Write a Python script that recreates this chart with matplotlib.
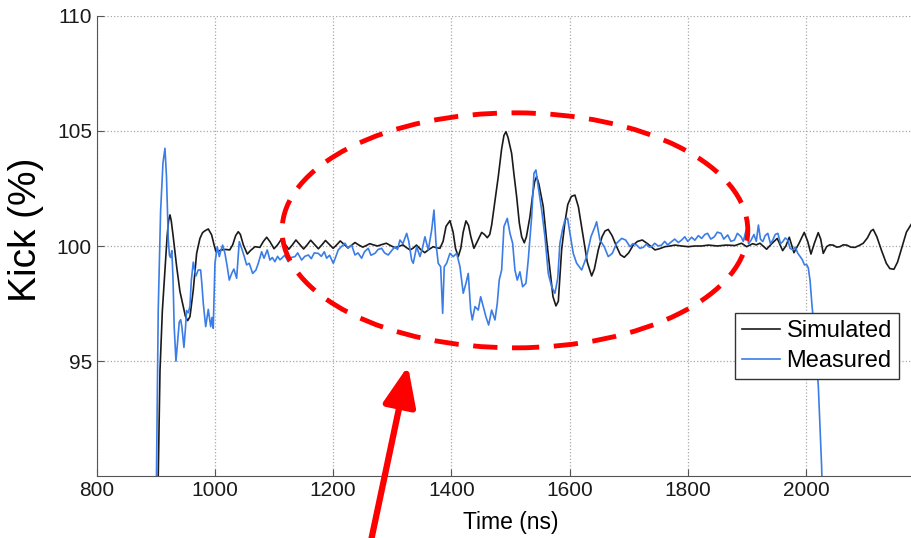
import matplotlib
matplotlib.use('Agg')
import matplotlib.pyplot as plt
from matplotlib.patches import Ellipse

plt.rcParams['font.family'] = ['Liberation Sans', 'DejaVu Sans']

# Simulated kick (black)
sim_t = [900, 904, 907, 911, 915.4, 919, 921.5, 923.9, 926, 929.4, 935.2, 940.8, 946.4, 950, 953.8,
         957.7, 963.3, 969, 974.6, 979, 983.1, 988.7, 994.4, 998, 1001.7, 1006, 1011, 1018, 1025, 1030,
         1035, 1039.4, 1043, 1048, 1054.7, 1060, 1067.7, 1076, 1082, 1087.5, 1093, 1100, 1106, 1112,
         1118, 1125, 1131, 1137, 1143, 1150, 1156, 1162, 1168, 1175, 1181, 1187, 1193, 1200, 1206,
         1212, 1218, 1225, 1231, 1237, 1243, 1250, 1256, 1262, 1268, 1275, 1282, 1290, 1297, 1305,
         1311, 1318, 1324, 1330, 1335, 1341, 1348, 1355, 1362, 1369.4, 1375, 1380.7, 1386, 1391,
         1397.6, 1403, 1407, 1411.7, 1416, 1420, 1424.7, 1429, 1433, 1438.2, 1444, 1451.3, 1456,
         1460.8, 1465, 1468.2, 1473, 1479.4, 1485, 1489, 1492.4, 1496, 1502, 1506, 1510.5, 1515,
         1519, 1523.4, 1527, 1533, 1538, 1541, 1544.3, 1548, 1551, 1555.5, 1561, 1566.8, 1572, 1577,
         1581, 1586.6, 1592, 1597, 1603, 1609.1, 1615, 1623.2, 1630, 1637.4, 1642, 1648.6, 1655, 1660,
         1665.5, 1672, 1679.7, 1686, 1692.6, 1700, 1707.8, 1715, 1723.1, 1732, 1744.5, 1752, 1761.4,
         1770, 1778.4, 1790, 1800.8, 1812, 1823.5, 1835, 1850, 1865, 1880, 1891, 1899.7, 1910, 1916,
         1922.2, 1933.5, 1942, 1951.5, 1960.6, 1966, 1971.8, 1979.7, 1988, 1997.1, 2003, 2008.5, 2014,
         2020.8, 2025, 2029.3, 2035, 2040, 2046, 2052, 2057.5, 2063, 2069, 2076, 2083, 2090, 2097,
         2104, 2110, 2113.9, 2120, 2128, 2136, 2142, 2148.9, 2155, 2162, 2170, 2179.3, 2190, 2200]
sim_kick = [85.0, 90.0, 94.6, 97.2, 98.96, 100.4, 101.1, 101.35, 101.1, 100.4, 99.1, 98.02, 97.37, 96.95,
            96.76, 96.93, 98.09, 99.68, 100.33, 100.58, 100.66, 100.74, 100.48, 100.1, 99.75, 99.78,
            99.83, 99.85, 99.83, 100.05, 100.45, 100.62, 100.5, 100.05, 99.65, 99.8, 99.97, 99.94,
            100.2, 100.38, 100.19, 99.88, 100.05, 100.28, 100.1, 99.86, 100.05, 100.26, 100.08, 99.87,
            100.05, 100.25, 100.08, 99.88, 100.05, 100.24, 100.08, 99.9, 100.05, 100.22, 100.08, 99.92,
            100.03, 100.15, 100.05, 99.95, 100.02, 100.1, 100.05, 100.0, 100.06, 100.12, 100.02, 99.92,
            99.98, 100.05, 99.93, 99.83, 99.9, 100.04, 99.85, 99.71, 99.85, 99.97, 99.92, 99.9, 100.2,
            100.85, 101.1, 100.6, 99.9, 99.54, 99.9, 100.6, 101.09, 100.9, 100.4, 99.9, 100.2, 100.59,
            100.5, 100.36, 100.5, 100.91, 101.8, 103.01, 104.2, 104.8, 104.96, 104.7, 104.02, 103.1,
            102.14, 101.0, 100.4, 100.14, 100.4, 101.27, 102.3, 102.8, 103.01, 102.7, 102.3, 101.71,
            100.3, 98.96, 97.8, 97.4, 97.6, 99.83, 101.0, 101.8, 102.15, 102.21, 101.7, 100.4, 99.3,
            98.7, 99.0, 99.83, 100.4, 100.65, 100.72, 100.45, 99.97, 99.62, 99.51, 99.7, 100.04, 100.2,
            100.26, 100.1, 99.83, 99.88, 99.97, 100.0, 100.04, 100.0, 99.97, 100.0, 100.0, 100.04,
            100.0, 100.04, 100.02, 100.12, 99.97, 100.1, 100.05, 100.12, 99.86, 100.1, 100.33, 99.8,
            100.0, 100.38, 99.71, 100.1, 100.59, 100.2, 99.65, 100.1, 100.58, 100.3, 99.68, 99.97,
            100.05, 100.04, 99.95, 99.97, 100.05, 100.04, 99.95, 99.94, 100.02, 100.12, 100.35, 100.65,
            100.72, 100.4, 99.8, 99.25, 99.02, 98.99, 99.3, 99.9, 100.6, 100.99, 101.3, 101.4]

# Measured kick (blue)
meas_t = [898, 901, 904, 908, 912, 915.4, 918, 921, 923, 925, 927, 929, 931, 934, 936, 939.6, 942, 944,
          947.5, 950, 952, 955, 957.7, 960, 963.3, 966, 967.8, 971.7, 975.8, 978, 980.3, 984.3, 988.7,
          992.8, 995, 997.1, 1000, 1003.9, 1007.3, 1010, 1013, 1016.9, 1020.8, 1024.2, 1028.3, 1032,
          1036.7, 1039, 1041.1, 1045.2, 1049.6, 1053.6, 1058, 1063.8, 1069.4, 1073.3, 1079, 1083,
          1088.5, 1093, 1097, 1101.5, 1106, 1110, 1113, 1118, 1124, 1129, 1135.4, 1140, 1146.7, 1152,
          1158, 1163, 1168, 1174.8, 1180, 1185, 1189, 1194, 1200.2, 1204, 1208.6, 1213, 1220, 1225,
          1231.3, 1236.9, 1242, 1248.2, 1253, 1259.4, 1264, 1270.7, 1276, 1282, 1287, 1293.2, 1299,
          1304.6, 1309, 1313, 1318, 1324.4, 1328, 1332.8, 1335.5, 1341.3, 1346.9, 1351, 1355.3, 1361,
          1366.7, 1370.6, 1374, 1377.8, 1381.9, 1385.3, 1388, 1392, 1397.6, 1403.2, 1409, 1414.6,
          1420.1, 1424.7, 1428.6, 1432.7, 1435.4, 1440, 1445.5, 1449.6, 1454, 1458.5, 1463.1, 1468.2,
          1473.8, 1477.7, 1481, 1485.1, 1489, 1494.6, 1499.2, 1503.7, 1507.6, 1511.5, 1516, 1520.6,
          1526.2, 1530.1, 1535.9, 1539.8, 1543.1, 1547, 1552.8, 1558.4, 1564, 1569.7, 1575.3, 1580,
          1583.7, 1588, 1592.2, 1596.7, 1600.7, 1606.3, 1612, 1620.5, 1628.9, 1636.2, 1643, 1645.8,
          1651.4, 1658.7, 1665.5, 1672.3, 1679.7, 1688.2, 1694.9, 1702.2, 1707, 1713.5, 1719, 1724.7,
          1730, 1735, 1738.9, 1744, 1750, 1755.8, 1761, 1766, 1772.7, 1778, 1784, 1789.7, 1795, 1800,
          1806.6, 1812, 1818, 1823.5, 1829, 1833.6, 1839, 1845, 1850, 1856.3, 1861, 1867.6, 1873, 1879,
          1884, 1890.3, 1894, 1898.8, 1903, 1907.3, 1912, 1916, 1919.6, 1923, 1927, 1931, 1935.5, 1940,
          1944, 1948, 1952.5, 1957, 1960.9, 1965, 1969.4, 1973, 1977.9, 1982, 1986.3, 1990, 1994,
          1997.5, 2001, 2004, 2007, 2010, 2016, 2021, 2026.6, 2028]
meas_kick = [88.0, 90.0, 97.2, 101.5, 103.6, 104.24, 103.0, 100.3, 99.6, 99.5, 99.8, 98.6, 96.5, 95.0,
             95.6, 96.7, 96.8, 96.5, 95.6, 96.4, 97.2, 97.1, 97.4, 98.5, 99.3, 98.9, 98.7, 98.96, 98.96,
             98.3, 97.5, 96.5, 97.25, 96.5, 96.9, 96.43, 99.25, 99.97, 99.54, 99.8, 100.04, 99.68, 99.1,
             98.52, 98.81, 99.0, 98.6, 99.4, 100.19, 99.9, 99.54, 99.18, 99.25, 98.81, 98.96, 99.25,
             99.75, 99.47, 99.83, 99.39, 99.5, 99.32, 99.55, 99.4, 99.47, 99.6, 99.32, 99.5, 99.54, 99.7,
             99.39, 99.55, 99.61, 99.45, 99.7, 99.68, 99.55, 99.75, 99.47, 99.6, 99.25, 99.5, 99.83,
             99.95, 100.12, 99.9, 100.04, 99.61, 99.7, 99.47, 99.75, 99.9, 99.6, 99.68, 99.85, 99.9,
             99.7, 99.61, 99.8, 99.97, 99.85, 100.26, 100.1, 100.55, 100.2, 99.39, 99.25, 99.97, 99.54,
             99.9, 100.4, 99.83, 100.69, 101.56, 100.12, 99.25, 99.1, 97.08, 99.1, 99.25, 99.68, 99.54,
             99.68, 99.1, 97.95, 98.38, 98.81, 97.22, 96.79, 97.37, 97.22, 97.8, 97.37, 96.93, 96.57,
             97.22, 96.79, 97.51, 98.52, 98.96, 100.84, 101.2, 100.55, 100.12, 98.96, 98.52, 98.88,
             98.23, 98.38, 99.39, 101.27, 103.16, 103.3, 102.57, 101.56, 100.4, 98.81, 98.23, 97.95,
             98.6, 100.12, 100.7, 101.13, 101.2, 100.55, 99.68, 99.25, 98.96, 99.54, 100.4, 100.84,
             101.05, 100.26, 99.97, 99.54, 99.68, 100.12, 100.33, 100.26, 99.97, 100.1, 100.04, 99.9,
             99.94, 100.08, 99.95, 99.97, 100.12, 100.0, 100.04, 100.2, 100.05, 100.19, 100.3, 100.15,
             100.26, 100.4, 100.2, 100.38, 100.25, 100.45, 100.33, 100.5, 100.55, 100.3, 100.4, 100.6,
             100.55, 100.3, 100.48, 100.2, 100.26, 100.55, 100.4, 100.2, 100.69, 100.1, 100.26, 100.5,
             100.2, 100.91, 100.3, 100.19, 100.45, 100.55, 100.1, 100.26, 100.5, 100.55, 100.1, 100.19,
             100.35, 100.26, 99.9, 99.83, 99.95, 99.68, 99.55, 99.4, 99.18, 99.2, 99.05, 98.5, 97.5,
             95.8, 93.9, 90.4, 89.0]

x_ticks = [800, 1000, 1200, 1400, 1600, 1800, 2000]
y_ticks = [95, 100, 105, 110]

# highlighted region and arrow (data units)
ell_center = (1507.6, 100.68)
ell_size = (788, 10.2)
arrow_tip = (1326.6, 94.79)
arrow_tail = (1264, 87.2)

fig = plt.figure(figsize=(9.12, 5.38), dpi=100)
ax = fig.add_axes([0.1061, 0.1145, 0.9072, 0.8565])

ax.plot(sim_t, sim_kick, color='#1a1a1a', lw=1.2, label='Simulated')
ax.plot(meas_t, meas_kick, color='#3b7de6', lw=1.2, label='Measured')

ax.set_xlim(800, 2200)
ax.set_ylim(90, 110)
ax.set_xticks(x_ticks)
ax.set_yticks(y_ticks)
ax.grid(True, linestyle=':', color='#a8a8a8', lw=0.9)
ax.tick_params(direction='in', length=5, labelsize=15, colors='#555555', labelcolor='#1a1a1a')
for s in ['top', 'right']:
    ax.spines[s].set_visible(False)
for s in ['left', 'bottom']:
    ax.spines[s].set_color('#555555')

ax.set_xlabel('Time (ns)', fontsize=16.5, labelpad=8)
ax.set_ylabel('Kick (%)', fontsize=28)
ax.yaxis.set_label_coords(-0.064, 0.535)

leg = ax.legend(loc='upper left', bbox_to_anchor=(0.771, 0.355), fontsize=17, fancybox=False,
                framealpha=1, edgecolor='#333333', handlelength=1.6, handletextpad=0.3,
                labelspacing=0.35, borderpad=0.3, borderaxespad=0)
leg.get_frame().set_linewidth(1.0)
leg.set_zorder(5)

ell = Ellipse(ell_center, ell_size[0], ell_size[1], fill=False, edgecolor='red', lw=3.5,
              linestyle=(0, (5, 3)), zorder=4)
ax.add_patch(ell)

ax.annotate('', xy=arrow_tip, xytext=arrow_tail, annotation_clip=False,
            arrowprops=dict(arrowstyle='-|>,head_length=1.2,head_width=0.5', color='red', lw=4.5,
                            mutation_scale=20, shrinkA=0, shrinkB=0))

fig.savefig('out.png', dpi=100)
